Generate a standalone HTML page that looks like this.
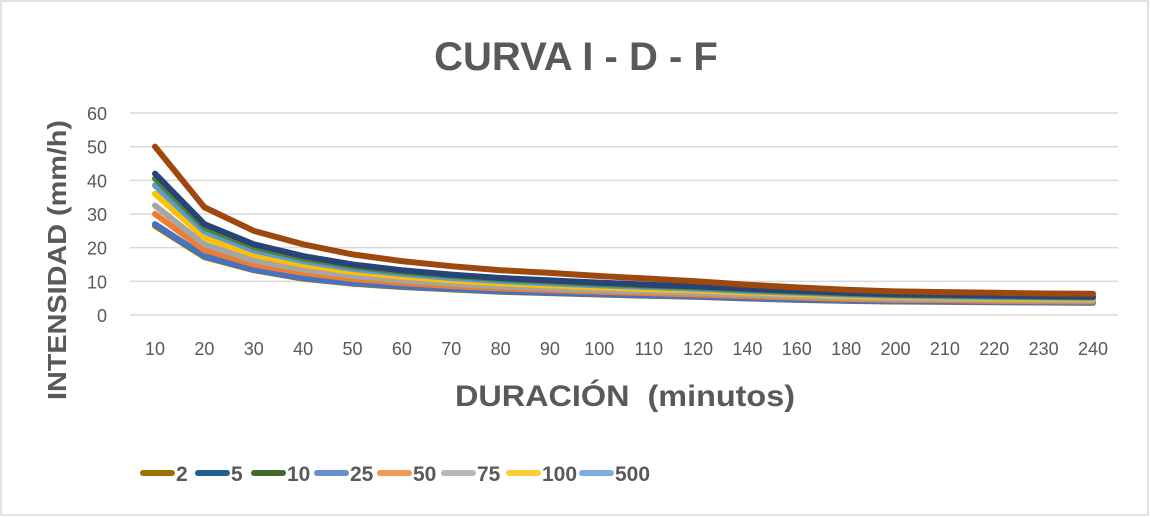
<!DOCTYPE html>
<html><head><meta charset="utf-8"><style>
body{margin:0;background:#fff;}
svg{display:block;font-family:"Liberation Sans",sans-serif;}
</style></head><body>
<svg id="c" width="1150" height="517">
<rect x="1" y="1" width="1147" height="514" fill="#fff" stroke="#d9d9d9" stroke-width="1.5"/>
<text x="576" y="70" text-anchor="middle" font-size="40" font-weight="bold" fill="#595959">CURVA I - D - F</text>
<text transform="translate(66,260) rotate(-90)" text-anchor="middle" font-size="26" font-weight="bold" fill="#595959" textLength="280" lengthAdjust="spacingAndGlyphs">INTENSIDAD (mm/h)</text>
<text x="625" y="406" text-anchor="middle" font-size="30" font-weight="bold" fill="#595959" xml:space="preserve" textLength="340" lengthAdjust="spacingAndGlyphs">DURACIÓN  (minutos)</text>
<g id="grid"></g><g id="lines"></g><g id="legend"></g>
</svg>
<script>
const categories=[10,20,30,40,50,60,70,80,90,100,110,120,140,160,180,200,210,220,230,240];
const yTicks=[0,10,20,30,40,50,60];
const sTop=[50,32,25,21,18,16,14.5,13.3,12.5,11.6,10.8,10,9,8.2,7.5,7,6.8,6.6,6.4,6.3];
const s2=[26.5,17.2,13.3,10.8,9.3,8.3,7.6,6.9,6.5,6.1,5.7,5.4,4.9,4.5,4.2,4,3.9,3.8,3.7,3.6];
const s5=[42,27,21,17.5,15,13.3,12,11,10.3,9.6,9,8.5,7.8,7.2,6.6,6.2,6,5.8,5.6,5.5];
const s10=[40.5,26,20.2,16.8,14.4,12.8,11.6,10.6,9.9,9.2,8.7,8.2,7.5,6.9,6.4,6,5.8,5.6,5.4,5.3];
const s25=[27,17.5,13.5,11,9.5,8.5,7.8,7,6.6,6.2,5.8,5.5,5,4.6,4.3,4.1,4,3.9,3.8,3.7];
const s50=[30,19.3,15,12.5,10.7,9.5,8.6,7.9,7.4,6.9,6.5,6.1,5.6,5.2,4.8,4.5,4.4,4.2,4.1,4];
const s75=[32.5,21,16.2,13.5,11.6,10.3,9.3,8.5,8,7.4,7,6.6,6.1,5.6,5.2,4.9,4.7,4.5,4.4,4.3];
const s100=[36,23,17.9,14.9,12.8,11.4,10.3,9.4,8.8,8.2,7.7,7.3,6.7,6.2,5.7,5.4,5.2,5,4.9,4.8];
const s500=[38.5,24.8,19.2,16,13.7,12.2,11,10.1,9.4,8.8,8.3,7.8,7.1,6.6,6.1,5.7,5.5,5.3,5.2,5.1];
const seriesNames=["2","5","10","25","50","75","100","500"];
const NS="http://www.w3.org/2000/svg";
const x0=155,dx=(1093-155)/19,yZero=315,yPer=(315-113)/60;
const X=i=>x0+i*dx, Y=v=>yZero-v*yPer;
function mk(t,a,p){const e=document.createElementNS(NS,t);for(const k in a)e.setAttribute(k,a[k]);p.appendChild(e);return e;}
const g=document.getElementById('grid');
yTicks.forEach(t=>{
 const l=mk('line',{x1:130,x2:1118,y1:Y(t),y2:Y(t),stroke:'#d9d9d9','stroke-width':1.5},g);
 
 
 const tx=mk('text',{x:107,y:Y(t)+7,'text-anchor':'end','font-size':18,fill:'#595959'},g);tx.textContent=t;
 
 
});
categories.forEach((c,i)=>{
 const tx=mk('text',{x:X(i),y:355,'text-anchor':'middle','font-size':18,fill:'#595959'},g);tx.textContent=c;
 
 
});
const L=document.getElementById('lines');
const draw=[[s2,'#997300','series-2'],[s25,'#4472C4','series-25'],[s50,'#ED7D31','series-50'],[s75,'#A5A5A5','series-75'],[s100,'#FFC000','series-100'],[s500,'#5B9BD5','series-500'],[s10,'#548235','series-10'],[s5,'#264478','series-5'],[sTop,'#9E480E','series-top']];
draw.forEach(([d,col,nm])=>{
 const p=mk('polyline',{points:d.map((v,i)=>X(i)+','+Y(v)).join(' '),fill:'none',stroke:col,'stroke-width':6,'stroke-linejoin':'round','stroke-linecap':'round'},L);
 
 
});
const lg=document.getElementById('legend');
const legCols=['#997300','#255E91','#43682B','#698ED0','#F1975A','#B7B7B7','#FFCD33','#7CAFDD'];
const legX=[141,196,252,315,378,442,507,580];
seriesNames.forEach((n,i)=>{
 const m=mk('line',{x1:legX[i]+2,x2:legX[i]+31,y1:473,y2:473,stroke:legCols[i],'stroke-width':6,'stroke-linecap':'round'},lg);
 
 
 const t=mk('text',{x:legX[i]+35,y:481,'font-size':21,'font-weight':'bold',fill:'#595959'},lg);t.textContent=n;
 
 
});
</script>
</body></html>
